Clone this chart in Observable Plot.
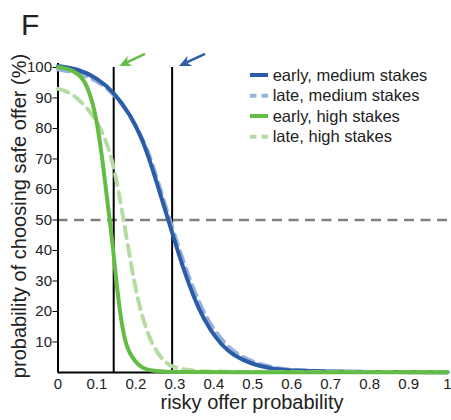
<!DOCTYPE html>
<html>
<head>
<meta charset="utf-8">
<script src="https://cdn.jsdelivr.net/npm/d3@7"></script>
<script src="https://cdn.jsdelivr.net/npm/@observablehq/plot@0.6"></script>
<style>
  html, body { margin: 0; padding: 0; background: #fff; }
  #chart { width: 451px; height: 420px; }
</style>
</head>
<body>
<div id="chart"></div>
<script>
// ---- data ----
const xTicks = [0, 0.1, 0.2, 0.3, 0.4, 0.5, 0.6, 0.7, 0.8, 0.9, 1];
const yTicks = [10, 20, 30, 40, 50, 60, 70, 80, 90, 100];

const earlyMediumX = [0, 0.05, 0.1, 0.143, 0.186, 0.216, 0.233, 0.259, 0.283, 0.307, 0.33, 0.36, 0.39, 0.42, 0.45, 0.5, 0.55, 0.6, 0.7, 0.8, 1];
const earlyMediumY = [100.5, 99.6, 96.6, 92, 84.5, 76.5, 70.5, 60, 50, 40, 31, 21, 14, 9, 5.6, 2.6, 1.2, 0.6, 0.25, 0.15, 0.1];

const lateMediumX = [0, 0.05, 0.1, 0.143, 0.186, 0.216, 0.24, 0.263, 0.287, 0.311, 0.335, 0.365, 0.395, 0.43, 0.46, 0.5, 0.55, 0.6, 0.7, 0.8, 1];
const lateMediumY = [99.3, 98.3, 95.8, 91.5, 84.3, 77, 69.5, 60, 50, 40.5, 31.5, 22, 14.8, 9.2, 6, 3.4, 1.6, 0.8, 0.3, 0.15, 0.1];

const earlyHighX = [0, 0.03, 0.058, 0.075, 0.09, 0.1, 0.113, 0.122, 0.133, 0.142, 0.148, 0.156, 0.163, 0.172, 0.18, 0.19, 0.205, 0.22, 0.24, 0.27, 0.3, 0.4, 1];
const earlyHighY = [100.2, 99.5, 97.4, 94, 88, 82, 71, 61, 50, 40, 32, 23, 16.5, 10.5, 7.5, 5, 2.6, 1.3, 0.6, 0.3, 0.2, 0.1, 0.1];

const lateHighX = [0, 0.02, 0.042, 0.072, 0.1, 0.122, 0.135, 0.148, 0.158, 0.167, 0.181, 0.195, 0.212, 0.235, 0.255, 0.275, 0.3, 0.35, 0.4, 1];
const lateHighY = [93, 92.3, 90.8, 87.3, 82.4, 76.4, 71.3, 64.5, 57.5, 51, 40.5, 30, 20, 11, 6.5, 3.2, 1.4, 0.5, 0.2, 0.1];

const seriesNames = ["early, medium stakes", "late, medium stakes", "early, high stakes", "late, high stakes"];
const seriesColors = ["#2b5ca8", "#98b3db", "#63bd45", "#b5dca2"];
const seriesDashed = [false, true, false, true];

const thresholdX = [0.143, 0.293];        // vertical reference lines
const chanceLevel = [50];                  // horizontal dashed line
const arrowTailX = [0.2246, 0.3787];
const arrowTailY = [104.3, 104.3];
const arrowTipX = [0.1587, 0.3119];
const arrowTipY = [100.3, 100.3];
const arrowColors = ["#63bd45", "#2b5ca8"];

// ---- build tables ----
const seriesXs = [earlyMediumX, lateMediumX, earlyHighX, lateHighX];
const seriesYs = [earlyMediumY, lateMediumY, earlyHighY, lateHighY];
const table = seriesNames.flatMap((name, s) =>
  seriesXs[s].map((x, i) => ({series: name, x, y: seriesYs[s][i]})));
const arrows = arrowTailX.map((_, i) => ({
  x1: arrowTailX[i], y1: arrowTailY[i], x2: arrowTipX[i], y2: arrowTipY[i], color: arrowColors[i]
}));

function curveMark(idx) {
  return Plot.line(table.filter(d => d.series === seriesNames[idx]), {
    x: "x", y: "y", curve: "basis",
    stroke: seriesColors[idx], strokeWidth: 4,
    strokeDasharray: seriesDashed[idx] ? "11,7" : null
  });
}

// filled arrow heads drawn through the plot's own scales
function arrowMark(index, scales) {
  const g = d3.create("svg:g");
  for (const a of arrows) {
    const sx = scales.x(a.x1), sy = scales.y(a.y1);
    const tx = scales.x(a.x2), ty = scales.y(a.y2);
    const dx = tx - sx, dy = ty - sy, len = Math.hypot(dx, dy);
    const ux = dx / len, uy = dy / len, nx = -uy, ny = ux;
    const L = 12, W = 5.5;
    const bx = tx - ux * L, by = ty - uy * L;
    g.append("line").attr("x1", sx).attr("y1", sy)
      .attr("x2", tx - ux * L * 0.7).attr("y2", ty - uy * L * 0.7)
      .attr("stroke", a.color).attr("stroke-width", 2.5);
    g.append("path")
      .attr("d", `M${tx},${ty}L${bx + nx * W},${by + ny * W}L${tx - ux * L * 0.7},${ty - uy * L * 0.7}L${bx - nx * W},${by - ny * W}Z`)
      .attr("fill", a.color);
  }
  return g.node();
}

const plot = Plot.plot({
  width: 451,
  height: 420,
  marginLeft: 57.5,
  marginRight: 4,
  marginTop: 63,
  marginBottom: 48,
  x: {domain: [0, 1]},
  y: {domain: [0, 101.3]},
  style: {fontFamily: "'Liberation Sans', Arial, sans-serif", fontSize: "15px", color: "#222", background: "#fff", overflow: "visible"},
  marks: [
    Plot.axisX({ticks: xTicks, tickSize: 0, tickPadding: 6, tickFormat: d => String(d), label: null, fontSize: 15}),
    Plot.axisY({ticks: yTicks, tickSize: 5, tickPadding: 1, label: null, fontSize: 15, stroke: "#000"}),
    Plot.ruleY(chanceLevel, {stroke: "#808080", strokeWidth: 2.5, strokeDasharray: "10,6.5"}),
    Plot.ruleX([0], {y1: 0, y2: 101.3, stroke: "#000", strokeWidth: 2}),
    Plot.ruleY([0], {stroke: "#000", strokeWidth: 2}),
    Plot.ruleX(thresholdX, {y1: 0, y2: 100, stroke: "#000", strokeWidth: 2}),
    curveMark(1),
    curveMark(0),
    curveMark(3),
    curveMark(2),
    arrowMark
  ]
});

document.getElementById("chart").appendChild(plot);

// ---- titles, axis labels, legend ----
const svg = d3.select(plot);
const font = "'Liberation Sans', Arial, sans-serif";

svg.append("text").attr("x", 21).attr("y", 35).attr("text-anchor", "start")
  .attr("font-family", font).attr("font-size", 30).attr("fill", "#222").text("F");

svg.append("text").attr("x", 252).attr("y", 409).attr("text-anchor", "middle")
  .attr("font-family", font).attr("font-size", 20).attr("fill", "#222")
  .text("risky offer probability");

svg.append("text").attr("transform", "translate(25.5,216) rotate(-90)")
  .attr("text-anchor", "middle")
  .attr("font-family", font).attr("font-size", 20).attr("fill", "#222")
  .text("probability of choosing safe offer (%)");

const legend = svg.append("g");
const rowY = [75, 95.7, 116, 136.7];
seriesNames.forEach((name, i) => {
  legend.append("line").attr("x1", 250).attr("x2", 268).attr("y1", rowY[i]).attr("y2", rowY[i])
    .attr("stroke", seriesColors[i]).attr("stroke-width", 4)
    .attr("stroke-dasharray", seriesDashed[i] ? "6.5,5" : null);
  legend.append("text").attr("x", 272.7).attr("y", rowY[i]).attr("dy", "0.35em")
    .attr("text-anchor", "start")
    .attr("font-family", font).attr("font-size", 16.5).attr("fill", "#222").text(name);
});
</script>
</body>
</html>
